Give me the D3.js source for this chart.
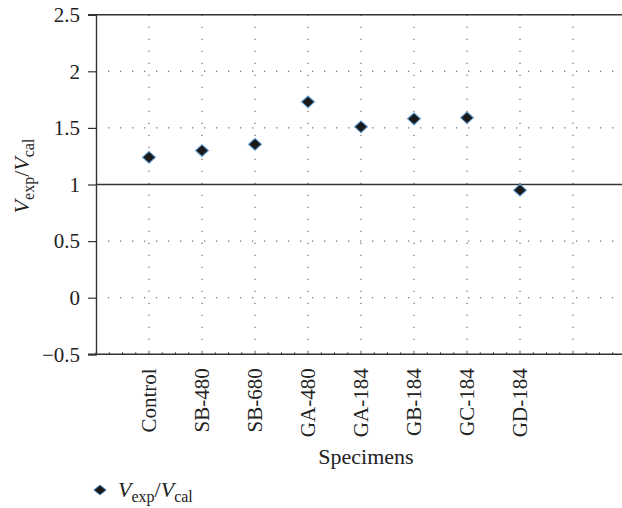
<!DOCTYPE html>
<html><head><meta charset="utf-8">
<script src="https://cdn.jsdelivr.net/npm/d3@7"></script>
<style>body{margin:0;background:#fff}svg{display:block}svg text{font-family:"Liberation Serif","Times New Roman",serif !important;fill:#222}</style>
</head><body>
<script>
const categories = ["Control","SB-480","SB-680","GA-480","GA-184","GB-184","GC-184","GD-184"];
const values = [1.24, 1.30, 1.355, 1.73, 1.51, 1.58, 1.59, 0.95];
const yTicks = [-0.5, 0, 0.5, 1, 1.5, 2, 2.5];
const yTickLabels = ["\u22120.5","0","0.5","1","1.5","2","2.5"];

const W = 622, H = 508;
const svg = d3.select("body").append("svg").attr("width", W).attr("height", H);
const x = d3.scaleLinear().domain([0, 10]).range([96, 626]);
const y = d3.scaleLinear().domain([-0.5, 2.5]).range([354.3, 14.7]);

// dotted grid
const grid = svg.append("g").attr("stroke", "#7a7a7a").attr("stroke-width", 1.3).attr("stroke-dasharray", "1.3,10.7");
d3.range(1, 10).forEach(i => {
  grid.append("line").attr("x1", x(i)).attr("x2", x(i)).attr("y1", y(2.5)).attr("y2", y(-0.5));
});
[0, 0.5, 1.5, 2].forEach(v => {
  grid.append("line").attr("x1", x(0) + 12).attr("x2", W).attr("y1", y(v)).attr("y2", y(v));
});

// solid lines
const solid = svg.append("g").attr("stroke", "#333").attr("stroke-width", 1.4);
solid.append("line").attr("x1", x(0)).attr("x2", W).attr("y1", y(1)).attr("y2", y(1));
solid.append("line").attr("x1", x(0) - 8).attr("x2", W).attr("y1", y(2.5)).attr("y2", y(2.5));
solid.append("line").attr("x1", x(0) - 8).attr("x2", W).attr("y1", y(-0.5)).attr("y2", y(-0.5));

// y axis
const yAxis = d3.axisLeft(y).tickValues(yTicks).tickSize(8).tickPadding(8)
  .tickFormat((d, i) => yTickLabels[i]);
const ga = svg.append("g").attr("transform", `translate(${x(0)},0)`).call(yAxis);
ga.attr("font-family", null).attr("font-size", null);
ga.select(".domain").attr("stroke", "#333").attr("stroke-width", 1.4);
ga.selectAll(".tick line").attr("stroke", "#333").attr("stroke-width", 1.2);
ga.selectAll(".tick text").style("font-size", "21px").style("font-family", "'Liberation Serif', serif").attr("fill", "#222");

// x minor ticks along bottom axis
const minor = svg.append("g").attr("stroke", "#333").attr("stroke-width", 1);
d3.range(0, 10.01, 0.25).forEach(v => {
  minor.append("line").attr("x1", x(v)).attr("x2", x(v)).attr("y1", y(-0.5)).attr("y2", y(-0.5) - 2);
});

// x category labels
const xl = svg.append("g");
categories.forEach((c, i) => {
  xl.append("text")
    .attr("transform", `translate(${x(i + 1) + 7},${y(-0.5) + 14}) rotate(-90)`)
    .attr("text-anchor", "end")
    .style("font-size", "21px")
    .text(c);
});

// axis titles
svg.append("text").attr("x", 366).attr("y", 464).attr("text-anchor", "middle").style("font-size", "22px").text("Specimens");

function ratio(sel) {
  sel.append("tspan").attr("font-style", "italic").text("V");
  sel.append("tspan").attr("dy", 5).style("font-size", "16px").text("exp");
  sel.append("tspan").attr("dy", -5).text("/");
  sel.append("tspan").attr("font-style", "italic").text("V");
  sel.append("tspan").attr("dy", 5).style("font-size", "16px").text("cal");
}
const yt = svg.append("text").attr("transform", `translate(29,176) rotate(-90)`).attr("text-anchor", "middle").style("font-size", "22px");
ratio(yt);

// points
svg.append("g").selectAll("path").data(values).join("path")
  .attr("transform", (d, i) => `translate(${x(i + 1)},${y(d)}) scale(1.9,1)`)
  .attr("d", d3.symbol().type(d3.symbolDiamond).size(40))
  .attr("fill", "#1a1a1a").attr("stroke", "#5b9bd5").attr("stroke-width", 0.7);

// legend
svg.append("path").attr("transform", "translate(100,490) scale(2.1,1)").attr("d", d3.symbol().type(d3.symbolDiamond).size(30)).attr("fill", "#1a1a1a").attr("stroke", "#5b9bd5").attr("stroke-width", 0.5);
const lt = svg.append("text").attr("x", 118).attr("y", 497).style("font-size", "22px");
ratio(lt);
</script>
</body></html>
